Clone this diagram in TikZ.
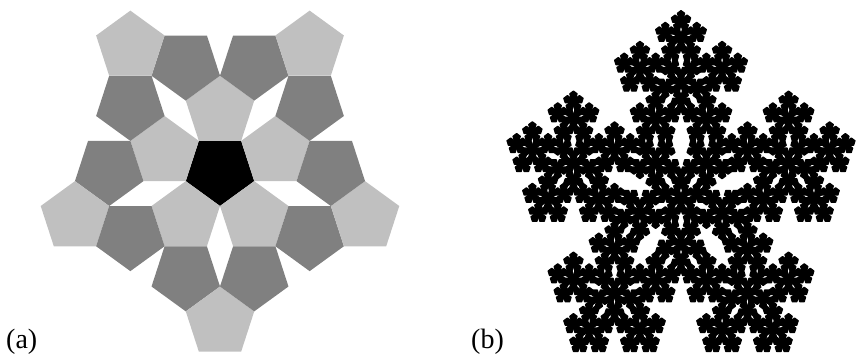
\documentclass[tikz,border=0pt]{standalone}
\usepackage{fontspec}
\setmainfont{Liberation Serif}
\usetikzlibrary{calc}
\definecolor{lgray}{RGB}{192,192,192}
\definecolor{dgray}{RGB}{128,128,128}
\tikzset{
  lightpent/.style={fill=lgray},
  darkpent/.style={fill=dgray},
  corepent/.style={fill=black},
  flakepent/.style={fill=black, draw=black, line width=1.1pt, line join=round},
  caption/.style={anchor=base west, inner sep=0pt, font=\fontsize{28}{28}\selectfont}
}
% regular pentagon: centre, circumradius, direction of one vertex, style
\newcommand\pent[4]{%
  \fill[#4, shift={#1}] (#3:#2) -- (#3+72:#2) -- (#3+144:#2) -- (#3+216:#2) -- (#3+288:#2) -- cycle;}
% pentaflake: depth, x, y, radius, vertex direction
\newcommand\pflake[5]{%
  \ifnum#1=0\relax
    \filldraw[flakepent, shift={(#2,#3)}] (#5:#4) -- (#5+72:#4) -- (#5+144:#4) -- (#5+216:#4) -- (#5+288:#4) -- cycle;
  \else
    \pgfmathsetmacro\pfr{#4*0.381966}%
    \pgfmathsetmacro\pfd{#4*0.618034}%
    \pgfmathsetmacro\pfa{#5+36}%
    \edef\pfnext{\noexpand\pflake{\the\numexpr#1-1\relax}{#2}{#3}{\pfr}{\pfa}}%
    \begingroup\pfnext\endgroup
    \foreach \k in {0,...,4}{%
      \pgfmathsetmacro\pfx{#2+\pfd*cos(#5+72*\k)}%
      \pgfmathsetmacro\pfy{#3+\pfd*sin(#5+72*\k)}%
      \edef\pfnext{\noexpand\pflake{\the\numexpr#1-1\relax}{\pfx}{\pfy}{\pfr}{#5}}%
      \pfnext
    }%
  \fi}
\begin{document}
\begin{tikzpicture}[x=1pt,y=1pt]
\useasboundingbox (0,-356) rectangle (856,0);
% (a) pentagon arrangement
\begin{scope}[shift={(220,-170)}]
  \pent{(0,0)}{36}{270}{corepent}
  \foreach \k in {0,...,4}{
    \pgfmathsetmacro\t{90+72*\k}
    \pent{(\t:58.25)}{36}{\t}{lightpent}
    \pent{($(\t:58.25)+(\t+36:58.25)$)}{36}{\t+180}{darkpent}
    \pent{($(\t:58.25)+(\t-36:58.25)$)}{36}{\t+180}{darkpent}
    \pent{($(\t:58.25)+(\t+36:58.25)+(\t+72:58.25)$)}{36}{\t}{lightpent}
  }
\end{scope}
% (b) pentaflake
\begin{scope}[shift={(681,-199)}, yscale=1.03]
  \pflake{4}{0}{0}{183}{90}
\end{scope}
\node[caption] (capa) at (6,-348) {(a)};
\node[caption] (capb) at (471,-348) {(b)};
\end{tikzpicture}
\end{document}
